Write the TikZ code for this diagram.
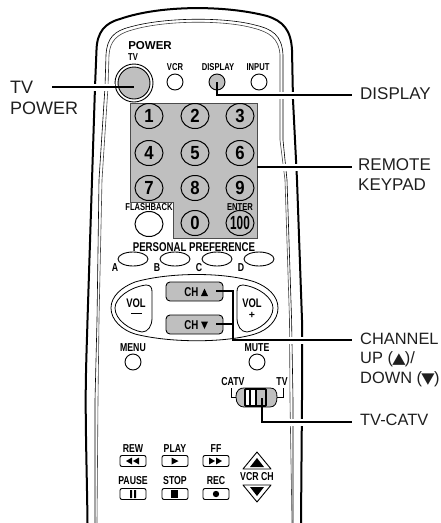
\documentclass[tikz,border=0pt]{standalone}
\usepackage{fontspec}
\setmainfont{Liberation Sans}
\newfontfamily\narrowf[FakeStretch=0.76]{Liberation Sans}
\newfontfamily\numf[FakeStretch=0.88]{Liberation Sans}
\newfontfamily\hundf[FakeStretch=0.62]{Liberation Sans}
\newfontfamily\symf[FakeStretch=1.15]{DejaVu Sans}
\usetikzlibrary{shapes.geometric,calc}
\definecolor{kg}{gray}{0.75}
\definecolor{txt}{gray}{0.12}
\tikzset{
 lab/.style={font=\fontsize{17}{20}\selectfont,inner sep=0pt,anchor=west,align=left,text=txt},
 labb/.style={font=\fontsize{18}{20}\selectfont,inner sep=0pt,anchor=west,align=left,text=txt},
 sm/.style={font=\narrowf\fontsize{10}{11}\selectfont\bfseries,inner sep=0pt,text=black},
 smn/.style={font=\narrowf\fontsize{11.5}{12}\selectfont\bfseries,inner sep=0pt},
 num/.style={draw,line width=1pt,ellipse,minimum width=28pt,minimum height=25pt,inner sep=0pt,font=\numf\fontsize{19}{19}\selectfont\bfseries},
 rb/.style={draw,line width=0.9pt,circle,minimum size=16pt,inner sep=0pt,fill=white},
 pp/.style={draw,line width=0.9pt,ellipse,minimum width=30pt,minimum height=14pt,inner sep=0pt,fill=white},
 ch/.style={draw,line width=0.9pt,fill=kg,rounded corners=4pt,minimum width=57pt,minimum height=19pt,inner sep=0pt},
 tr/.style={draw,line width=0.9pt,rounded corners=2pt,minimum width=26pt,minimum height=11pt,inner sep=0pt,fill=white},
 ld/.style={line width=1.1pt},
 halo/.style={white,line width=7pt},
}
\begin{document}
\begin{tikzpicture}[x=1pt,y=-1pt]
\useasboundingbox (0,0) rectangle (440,523);
% body
\draw[line width=2pt] (87.5,523) .. controls (87,480) and (85.7,440) .. (85.7,400) .. controls (85.7,370) and (87,340) .. (87.5,320) -- (92,180) -- (95,87) -- (96.5,50) .. controls (97,32) and (105,23) .. (120,19) .. controls (160,5) and (225,5) .. (267,16) .. controls (283,21) and (291,30) .. (292,50) -- (293,100) -- (297,180) -- (302,320) -- (302,400) -- (301,523);
\draw[line width=0.6pt] (95,523) -- (95,400) -- (97,320) -- (99,180) -- (105,87) -- (106,55) .. controls (107,38) and (114,31) .. (130,27) .. controls (165,17) and (225,17) .. (255,25) .. controls (272,29) and (282,35) .. (283,55) -- (283,140) -- (287,180) -- (291.6,320) -- (293,400) -- (293,523);
\draw[line width=0.6pt,draw=black!75] (97,523) -- (98,400) -- (99,320) -- (102,180) -- (108,87) -- (109,55) .. controls (110,41) and (117,34) .. (132,30) .. controls (165,20) and (225,20) .. (253,28) .. controls (269,32) and (279,38) .. (280,55) -- (280,140) -- (285,180) -- (289.5,320) -- (290,400) -- (292,523);
% power
\node[sm,font=\fontsize{11.5}{12}\selectfont\bfseries] (pw) at (150,46) {POWER};
\node[sm] (ltv) at (133,57) {TV};
\node[sm] (lvcr) at (175,67) {VCR};
\node[sm] (ldisp) at (218,67) {DISPLAY};
\node[sm] (linp) at (258,67) {INPUT};
\node[draw,circle,line width=0.9pt,minimum size=38pt,inner sep=0pt] (tvo) at (134,83) {};
\node[draw,circle,line width=0.9pt,fill=kg,minimum size=32pt,inner sep=0pt] (tvb) at (134,83) {};
\node[rb] (vcr) at (175,82) {};
\node[rb,fill=kg] (disp) at (217,82) {};
\node[rb] (inp) at (259,82) {};
% keypad
\path[fill=kg,draw=black!70,line width=0.5pt] (130,103) -- (257,103) -- (257,238) -- (173,238) -- (173,202) -- (130,202) -- cycle;
\node[num] (k1) at (149,116) {1};
\node[num] (k2) at (195,116) {2};
\node[num] (k3) at (240,116) {3};
\node[num] (k4) at (149,153) {4};
\node[num] (k5) at (195,153) {5};
\node[num] (k6) at (240,153) {6};
\node[num] (k7) at (149,188) {7};
\node[num] (k8) at (195,188) {8};
\node[num] (k9) at (240,188) {9};
\node[num] (k0) at (195,223) {0};
\node[num,font=\hundf\fontsize{19}{19}\selectfont\bfseries] (k100) at (240,223) {100};
\node[num,fill=white] (fb) at (149,224) {};
\node[sm] (lfb) at (149,207.5) {FLASHBACK};
\node[sm] (lent) at (240,207) {ENTER};
% personal preference
\node[smn,font=\narrowf\fontsize{12.7}{13}\selectfont\bfseries] (lpp) at (194,247) {PERSONAL PREFERENCE};
\node[pp] (pa) at (133,259) {};
\node[pp] (pb) at (175,259) {};
\node[pp] (pc) at (217,259) {};
\node[pp] (pd) at (259,259) {};
\node[smn] (la) at (115,268) {A};
\node[smn] (lb) at (157,268) {B};
\node[smn] (lc) at (199,268) {C};
\node[smn] (ld) at (241,268) {D};
% vol / ch
\draw[line width=0.8pt] (135,282) .. controls (170,272) and (225,272) .. (255,282) .. controls (268,287) and (278,296) .. (278,308) .. controls (278,320) and (268,330) .. (255,334) .. controls (225,343) and (170,343) .. (135,334) .. controls (122,330) and (111,320) .. (111,308) .. controls (111,296) and (122,287) .. (135,282) -- cycle;
\draw[line width=0.8pt] (146,285) .. controls (151,285) and (152,288) .. (152,292) -- (152,318) .. controls (152,326) and (148,332) .. (142,332) .. controls (130,330) and (115,320) .. (115,308) .. controls (115,298) and (130,287) .. (146,285) -- cycle;
\draw[line width=0.8pt] (243,285) .. controls (238,285) and (237,288) .. (237,292) -- (237,318) .. controls (237,326) and (241,332) .. (247,332) .. controls (259,330) and (273,320) .. (273,308) .. controls (273,298) and (259,287) .. (243,285) -- cycle;
\node[smn,font=\narrowf\fontsize{12.4}{13}\selectfont\bfseries] (lv1) at (136,303) {VOL};
\node[smn,font=\narrowf\fontsize{12.4}{13}\selectfont\bfseries] (lv2) at (252,303) {VOL};
\node[smn,font=\fontsize{10.5}{11}\selectfont\bfseries] (lplus) at (252,315) {+};
\draw[line width=1.3pt] (131,313.5) -- (142,313.5);
\node[ch] (chu) at (194.5,291.5) {};
\node[ch] (chd) at (194.5,324.5) {};
\node[smn,font=\narrowf\fontsize{12.8}{13}\selectfont\bfseries] (lchu) at (191.5,292) {CH};
\node[smn,font=\narrowf\fontsize{12.8}{13}\selectfont\bfseries] (lchd) at (191.5,325) {CH};
\fill (201,296) -- (208,296) -- (204.5,288.5) -- cycle;
\fill (201,321.5) -- (208,321.5) -- (204.5,329) -- cycle;
% menu/mute
\node[smn] (lmenu) at (133,348) {MENU};
\node[smn] (lmute) at (257,348) {MUTE};
\node[rb] (menu) at (133,362) {};
\node[rb] (mute) at (257,362) {};
% switch
\node[smn] (lcatv) at (233,382) {CATV};
\node[smn] (ltvs) at (282,382) {TV};
\draw[line width=0.7pt] (231,388) -- (231,397) -- (236,397);
\draw[line width=0.7pt] (283,388) -- (283,397) -- (277,397);
\draw[line width=0.8pt,fill=kg] (236,397) .. controls (236,390) and (240,388) .. (244,388) -- (270,388) .. controls (275,388) and (277,391) .. (277,397) .. controls (277,403) and (275,407) .. (270,407) -- (244,407) .. controls (240,407) and (236,404) .. (236,397) -- cycle;
\draw[line width=1.8pt,fill=white,rounded corners=1pt] (245,389) rectangle (266,406);
\fill (249,390) rectangle (251,405);
\fill (254.5,390) rectangle (256.5,405);
\fill[kg] (257,390) rectangle (265,405);
% transport
\node[smn] (lrew) at (133,449) {REW};
\node[smn] (lplay) at (175,449) {PLAY};
\node[smn] (lff) at (216,449) {FF};
\node[smn] (lpause) at (133,481) {PAUSE};
\node[smn] (lstop) at (175,481) {STOP};
\node[smn] (lrec) at (216,481) {REC};
\node[tr] (brew) at (133,461) {};
\node[tr] (bplay) at (175,461) {};
\node[tr] (bff) at (216,461) {};
\node[tr] (bpause) at (133,494) {};
\node[tr] (bstop) at (175,494) {};
\node[tr] (brec) at (216,494) {};
\fill (126,461) -- (132,457.5) -- (132,464.5) -- cycle (133,461) -- (139,457.5) -- (139,464.5) -- cycle;
\fill (171.5,457.5) -- (178.5,461) -- (171.5,464.5) -- cycle;
\fill (209,457.5) -- (215,461) -- (209,464.5) -- cycle (216,457.5) -- (222,461) -- (216,464.5) -- cycle;
\fill (130,490) rectangle (132,498) (134,490) rectangle (136,498);
\fill (171,490) rectangle (178,498);
\fill (216,494) circle (3.2);
\node[smn] (lvcrch) at (257,477) {VCR CH};
\draw[line width=0.9pt,line join=round] (257,452) -- (271,469) -- (243,469) -- cycle;
\fill (257,458) -- (264,467) -- (250,467) -- cycle;
\draw[line width=0.9pt,line join=round] (257,502) -- (271,485) -- (243,485) -- cycle;
\fill (257,496) -- (264,487) -- (250,487) -- cycle;
% labels
\node[labb] (tTV) at (10,87) {TV};
\node[labb] (tP) at (10,108) {POWER};
\node[lab] (tD) at (360,94) {DISPLAY};
\node[lab] (tR) at (358,165) {REMOTE};
\node[lab] (tK) at (358,185) {KEYPAD};
\node[lab,font=\fontsize{16.4}{20}\selectfont] (tC) at (360,339) {CHANNEL};
\node[lab,font=\fontsize{16.4}{20}\selectfont] (tU) at (360,359) {UP ({\kern-0.7pt\symf\fontsize{15}{15}\selectfont▲\kern-0.7pt})/};
\node[lab,font=\fontsize{16.4}{20}\selectfont] (tDn) at (360,379) {DOWN ({\kern-0.7pt\symf\fontsize{15}{15}\selectfont▼\kern-0.7pt})};
\node[lab,font=\fontsize{16.4}{20}\selectfont] (tT) at (360,420) {TV-CATV};
% connectors
\coordinate (c1) at (52,87);
\coordinate (c2) at (134,87);
\draw[halo] (80,87) -- (115,87);
\draw[ld] (c1) -- (c2);
\coordinate (d1) at (217,82);
\coordinate (d2) at (352,95);
\draw[halo] (275,95) -- (305,95);
\draw[ld] (d1) |- (d2);
\coordinate (r1) at (257,167);
\coordinate (r2) at (352,167);
\draw[halo] (275,167) -- (305,167);
\draw[ld] (r1) -- (r2);
\coordinate (u1) at (216,291);
\coordinate (u2) at (233,291);
\coordinate (u3) at (233,340);
\coordinate (u4) at (352,340);
\coordinate (dn) at (216,324);
\draw[halo] (283,340) -- (307,340);
\draw[ld] (u1) -- (u2) -- (u3) -- (u4);
\draw[ld] (dn) -- (dn -| u2);
\coordinate (s1) at (262,398);
\coordinate (s2) at (352,422);
\draw[halo] (283,422) -- (307,422);
\draw[ld] (s1) |- (s2);
\end{tikzpicture}
\end{document}
